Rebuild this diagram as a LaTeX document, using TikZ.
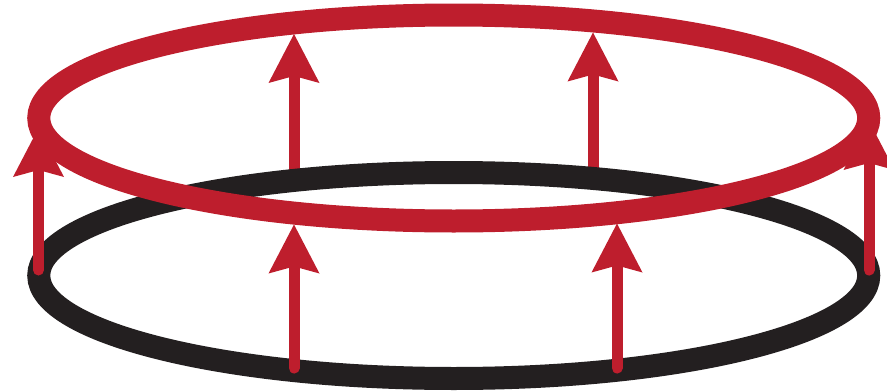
\documentclass[tikz,border=0pt]{standalone}
\usetikzlibrary{arrows.meta}

\definecolor{ringred}{HTML}{BE1E2D}
\definecolor{ringblack}{HTML}{231F20}

\tikzset{
  ring/.style={line width=23pt},
  lift/.style={ringred, line width=11pt, line cap=round,
    -{Stealth[length=49pt, width=51pt, inset=7pt, line width=0pt]}}
}

\begin{document}
\begin{tikzpicture}[x=1pt, y=-1pt]
    \useasboundingbox (0,0) rectangle (887,391);

    % Arrow end points
    \coordinate (backA0) at (294,181);   \coordinate (backA1) at (294,34);
    \coordinate (backB0) at (593,179);   \coordinate (backB1) at (593,32.5);
    \coordinate (frontA0) at (294,368);  \coordinate (frontA1) at (294,224.5);
    \coordinate (frontB0) at (617,368);  \coordinate (frontB1) at (617,223.5);
    \coordinate (left0) at (38.5,270);   \coordinate (left1) at (38.5,128);
    \coordinate (right0) at (869,270);   \coordinate (right1) at (869,121);

    % Back arrows (behind the lower ring)
    \draw[lift] (backA0) -- (backA1);
    \draw[lift] (backB0) -- (backB1);

    % Lower ring
    \draw[ring, ringblack] (453.75,275.5) ellipse [x radius=415, y radius=103];

    % Front and side arrows
    \draw[lift] (frontA0) -- (frontA1);
    \draw[lift] (frontB0) -- (frontB1);
    \draw[lift] (left0) -- (left1);
    \draw[lift] (right0) -- (right1);

    % Upper ring
    \draw[ring, ringred] (453.75,118) ellipse [x radius=415, y radius=103];
\end{tikzpicture}
\end{document}
